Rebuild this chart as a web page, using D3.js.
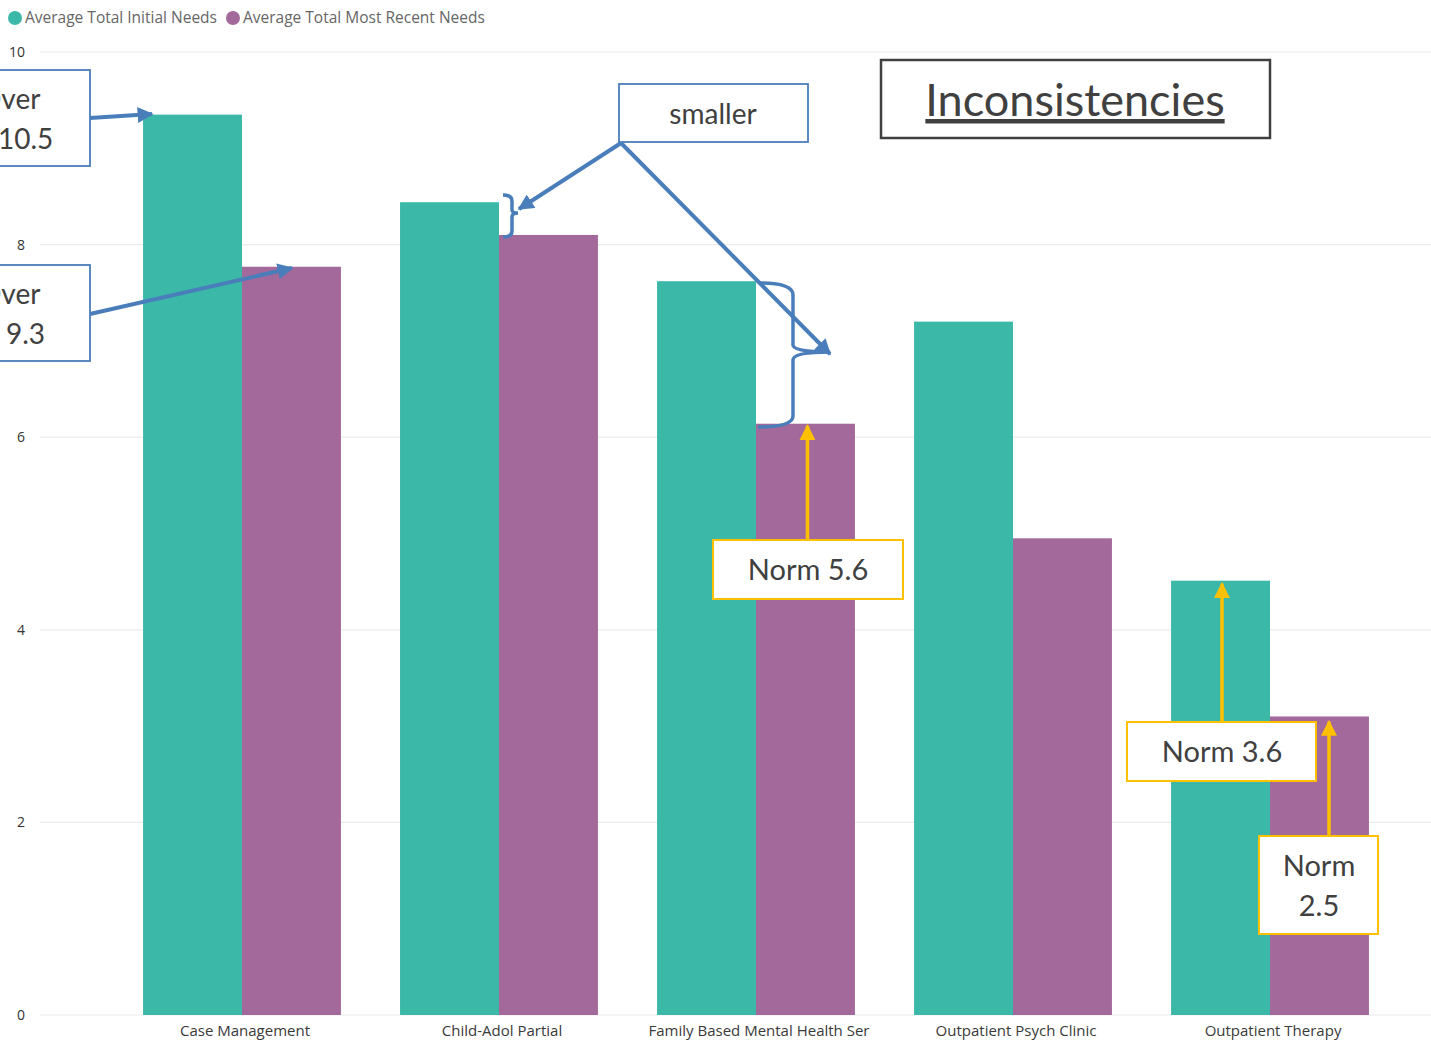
<!DOCTYPE html>
<html>
<head>
<meta charset="utf-8">
<script src="https://cdn.jsdelivr.net/npm/d3@7"></script>
<style>
  html, body { margin: 0; padding: 0; background: #fff; overflow: hidden; }
  svg { display: block; }
</style>
</head>
<body>
<svg id="chart" width="1431" height="1053"></svg>
<script>
// ---- data ----
const categories = ["Case Management", "Child-Adol Partial", "Family Based Mental Health Ser", "Outpatient Psych Clinic", "Outpatient Therapy"];
const seriesNames = ["Average Total Initial Needs", "Average Total Most Recent Needs"];
const initialNeeds = [9.35, 8.44, 7.62, 7.20, 4.51];
const recentNeeds = [7.77, 8.10, 6.14, 4.95, 3.10];
const yTicks = [0, 2, 4, 6, 8, 10];

// ---- setup ----
const W = 1431, H = 1053;
const colors = ["#3cb8a9", "#a3699a"];
const svg = d3.select("#chart");

const x = d3.scaleBand().domain(categories).range([113.5, 1398.5]).paddingInner(0.23).paddingOuter(0.115);
const xs = d3.scaleBand().domain(seriesNames).range([0, x.bandwidth()]);
const y = d3.scaleLinear().domain([0, 10]).range([1015, 52]);

const rows = categories.map((c, i) => ({ cat: c, vals: [initialNeeds[i], recentNeeds[i]] }));

// y axis + gridlines
const yAxis = d3.axisLeft(y).tickValues(yTicks).tickSize(0).tickFormat(d3.format("d"));
const gAxis = svg.append("g").attr("transform", "translate(28,0)").call(yAxis);
gAxis.select(".domain").remove();
gAxis.selectAll("text").attr("x", -3).attr("dy", "0.32em")
  .style("font-family", "'Segoe UI', 'Open Sans', sans-serif").style("font-size", "14px").attr("fill", "#333");
svg.append("g").selectAll("line").data(yTicks).join("line")
  .attr("x1", 40).attr("x2", W).attr("y1", d => y(d)).attr("y2", d => y(d))
  .attr("stroke", "#ebebeb").attr("stroke-width", 1.2);

// bars
const groups = svg.append("g").selectAll("g").data(rows).join("g")
  .attr("transform", d => `translate(${x(d.cat)},0)`);
groups.selectAll("rect").data(d => d.vals.map((v, j) => ({ key: seriesNames[j], v, j }))).join("rect")
  .attr("x", d => xs(d.key)).attr("width", xs.bandwidth())
  .attr("y", d => y(d.v)).attr("height", d => y(0) - y(d.v))
  .attr("fill", d => colors[d.j]);

// x axis labels
const xAxis = d3.axisBottom(x).tickSize(0);
const gx = svg.append("g").attr("transform", `translate(3,${y(0)})`).call(xAxis);
gx.select(".domain").remove();
gx.selectAll("text").attr("y", 10).attr("dy", "0.71em")
  .style("font-family", "'Segoe UI', 'Open Sans', sans-serif").style("font-size", "15px").attr("fill", "#3a3a3a");

// legend
const legend = svg.append("g");
let lx = 15;
seriesNames.forEach((s, i) => {
  legend.append("circle").attr("cx", lx).attr("cy", 18).attr("r", 7).attr("fill", colors[i]);
  const t = legend.append("text").attr("x", lx + 10).attr("y", 18).attr("dy", "0.35em")
    .style("font-family", "'Segoe UI', 'Open Sans', sans-serif").style("font-size", "15.5px")
    .attr("fill", "#666").text(s);
  lx = lx + 10 + t.node().getComputedTextLength() + 16;
});

// ---- annotations ----
const annoFont = "Lato, 'Open Sans', sans-serif";
const blue = "#4a7ebb", yellow = "#ffc000";
const defs = svg.append("defs");
function marker(id, col, size) {
  defs.append("marker").attr("id", id).attr("markerUnits", "userSpaceOnUse")
    .attr("viewBox", "0 -5 10 10").attr("refX", 9).attr("refY", 0)
    .attr("markerWidth", size).attr("markerHeight", size).attr("orient", "auto")
    .append("path").attr("d", "M0,-5L10,0L0,5Z").attr("fill", col);
}
marker("ab", blue, 16);
marker("ay", yellow, 16);

const anno = svg.append("g");
function box(x0, y0, w, h, stroke, sw) {
  anno.append("rect").attr("x", x0).attr("y", y0).attr("width", w).attr("height", h)
    .attr("fill", "#fff").attr("stroke", stroke).attr("stroke-width", sw);
}
function txt(tx, ty, s, size, anchor) {
  return anno.append("text").attr("x", tx).attr("y", ty).attr("text-anchor", anchor || "middle")
    .style("font-family", annoFont).style("font-size", size + "px").attr("fill", "#404040").text(s);
}
function arrow(x1, y1, x2, y2, col, id, sw) {
  anno.append("line").attr("x1", x1).attr("y1", y1).attr("x2", x2).attr("y2", y2)
    .attr("stroke", col).attr("stroke-width", sw).attr("marker-end", `url(#${id})`);
}

const cx = (i, j) => x(categories[i]) + xs(seriesNames[j]) + xs.bandwidth() / 2;

// left boxes (partially off-canvas, as in the reference)
box(-60, 70, 150, 96, blue, 1.8);
txt(-21, 109, "Over", 28, "start");
txt(-2, 149, "10.5", 28, "start");
arrow(90, 118, 152, 114, blue, "ab", 4);

box(-60, 265, 150, 96, blue, 1.8);
txt(-21, 304, "Over", 28, "start");
txt(6, 344, "9.3", 28, "start");
arrow(90, 314, 292, 268, blue, "ab", 4);

// "smaller" box with arrows
arrow(621, 143, 519, 209, blue, "ab", 4);
arrow(621, 143, 830, 354, blue, "ab", 4);
box(619, 84, 189, 58, blue, 1.8);
txt(713, 124, "smaller", 28);

// braces
anno.append("path")
  .attr("d", "M503,195 Q512,195 512,201 L512,210 Q512,213 518,213 Q512,213 512,217 L512,231 Q512,237 503,237")
  .attr("fill", "none").attr("stroke", blue).attr("stroke-width", 3.5);
anno.append("path")
  .attr("d", "M760,283 Q793,283 793,295 L793,345 Q793,352 830,352 Q793,352 793,360 L793,416 Q793,427 758,427")
  .attr("fill", "none").attr("stroke", blue).attr("stroke-width", 3.5);

// title box
box(881, 60, 389, 78, "#404040", 2.5);
const tt = txt(1075, 116, "Inconsistencies", 45);
tt.attr("text-decoration", "underline");

// Norm annotations
arrow(cx(2, 1) + 2, 540, cx(2, 1) + 2, y(recentNeeds[2]) + 2, yellow, "ay", 3.5);
box(713, 540, 190, 59, yellow, 2);
txt(808, 580, "Norm 5.6", 29);

arrow(1222, 722, 1222, y(initialNeeds[4]) + 3, yellow, "ay", 3.5);
box(1127, 722, 189, 59, yellow, 2);
txt(1222, 762, "Norm 3.6", 29);

arrow(1329, 836, 1329, y(recentNeeds[4]) + 5, yellow, "ay", 3.5);
box(1259, 836, 119, 98, yellow, 2);
txt(1319, 876, "Norm", 29);
txt(1319, 916, "2.5", 29);
</script>
</body>
</html>
